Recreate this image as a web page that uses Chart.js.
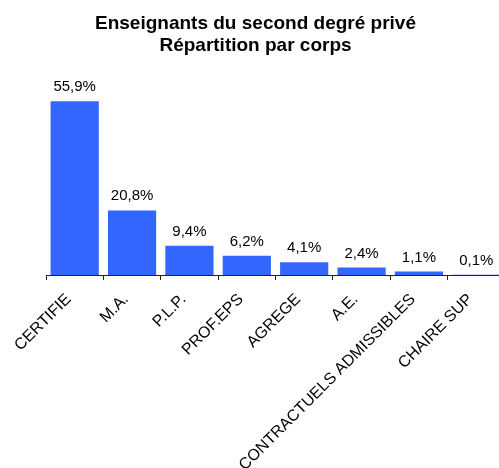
<!DOCTYPE html>
<html>
<head>
<meta charset="utf-8">
<script src="https://cdn.jsdelivr.net/npm/chart.js@4"></script>
<style>
  html, body { margin: 0; padding: 0; background: #fff; overflow: hidden; }
  #wrap { width: 510px; height: 468px; }
</style>
</head>
<body>
<div id="wrap"><canvas id="graphique"></canvas></div>
<script>
// Données du graphique
const corps = ['CERTIFIE', 'M.A.', 'P.L.P.', 'PROF.EPS', 'AGREGE', 'A.E.', 'CONTRACTUELS ADMISSIBLES', 'CHAIRE SUP'];
const pourcentages = [55.9, 20.8, 9.4, 6.2, 4.1, 2.4, 1.1, 0.1];
const titre = ['Enseignants du second degré privé', 'Répartition par corps'];

const police = 'Liberation Sans, Arial, sans-serif';

// Étiquettes au-dessus des barres (format français)
const etiquettesBarres = {
    id: 'etiquettesBarres',
    afterDatasetsDraw(chart) {
        const ctx = chart.ctx;
        const meta = chart.getDatasetMeta(0);
        ctx.save();
        ctx.font = '15px ' + police;
        ctx.fillStyle = '#000';
        ctx.textAlign = 'center';
        ctx.textBaseline = 'alphabetic';
        meta.data.forEach((barre, i) => {
            const texte = pourcentages[i].toFixed(1).replace('.', ',') + '%';
            ctx.fillText(texte, barre.x, barre.y - 10);
        });
        ctx.restore();
    }
};

new Chart(document.getElementById('graphique'), {
    type: 'bar',
    data: {
        labels: corps,
        datasets: [{
            data: pourcentages,
            backgroundColor: '#3366ff',
            categoryPercentage: 1,
            barPercentage: 0.84
        }]
    },
    options: {
        responsive: true,
        maintainAspectRatio: false,
        animation: false,
        layout: { padding: { left: 6, right: 5, top: 0, bottom: 0 } },
        plugins: {
            legend: { display: false },
            tooltip: { enabled: false },
            title: {
                display: true,
                text: titre,
                color: '#000',
                font: { family: police, size: 19, weight: 'bold', lineHeight: 1.2 },
                padding: { top: 12, bottom: 31 }
            }
        },
        scales: {
            x: {
                grid: { display: true, offset: true, drawOnChartArea: false, tickLength: 5, color: '#222' },
                border: { display: true, color: '#222' },
                ticks: {
                    color: '#000',
                    font: { family: police, size: 16 },
                    minRotation: 45,
                    maxRotation: 45,
                    autoSkip: false,
                    padding: 10,
                    labelOffset: -6
                },
                // hauteur fixe de l'axe : les longues étiquettes sortent du cadre comme dans l'original
                afterFit(axe) { axe.height = 193; }
            },
            y: {
                min: 0,
                max: 60,
                grid: { display: false },
                border: { display: false },
                ticks: { display: false },
                afterFit(axe) { axe.width = 40; }
            }
        }
    },
    plugins: [etiquettesBarres]
});
</script>
</body>
</html>
